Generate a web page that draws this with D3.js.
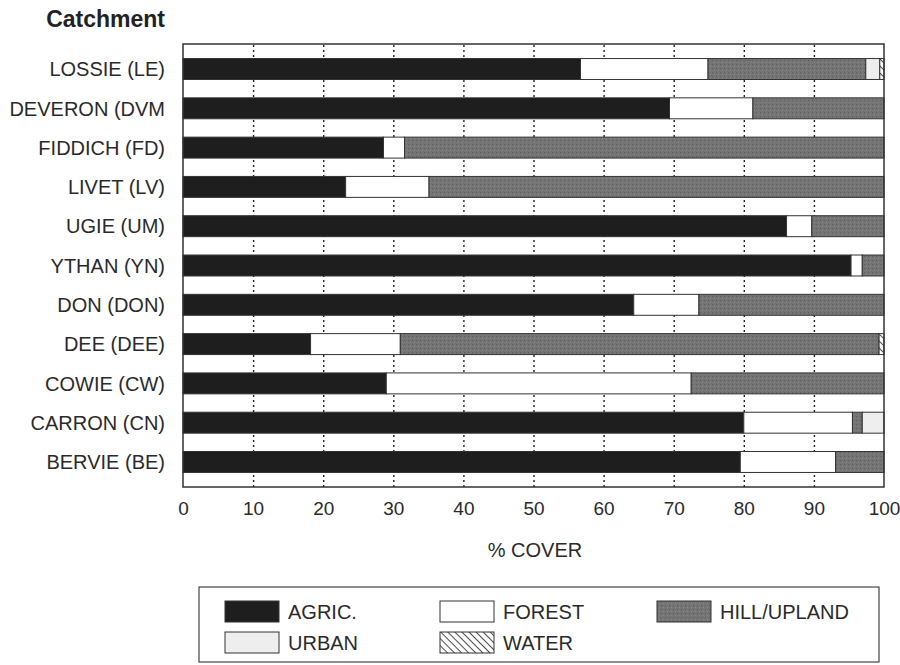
<!DOCTYPE html>
<html lang="en">
<head>
<meta charset="UTF-8">
<title>Land cover by catchment</title>
<style>
    body { margin: 0; background: #fff; }
    svg { display: block; font-family: "Liberation Sans", Arial, Helvetica, sans-serif; }
    .cat-label { font-size: 20px; fill: #2a2a2a; }
    .tick text { font-size: 19px; fill: #2a2a2a; }
    .grid line { stroke: #222; stroke-width: 1.4; stroke-dasharray: 2,3; }
    .bar { stroke: #333; stroke-width: 1; }
    .legend-text { font-size: 20px; fill: #2a2a2a; }
</style>
</head>
<body>
<svg id="chart"></svg>
<script src="https://cdnjs.cloudflare.com/ajax/libs/d3/7.9.0/d3.min.js"></script>
<script>
// catchments, top to bottom
const catchments = ["LOSSIE (LE)", "DEVERON (DVM", "FIDDICH (FD)", "LIVET (LV)", "UGIE (UM)",
    "YTHAN (YN)", "DON (DON)", "DEE (DEE)", "COWIE (CW)", "CARRON (CN)", "BERVIE (BE)"];

// % cover per class, same order as catchments
const agric  = [56.7, 69.4, 28.6, 23.2, 86.1, 95.3, 64.3, 18.2, 29.0, 80.0, 79.5];
const forest = [18.2, 11.9,  3.0, 11.9,  3.6,  1.6,  9.3, 12.8, 43.5, 15.5, 13.6];
const hill   = [22.5, 18.7, 68.4, 64.9, 10.3,  3.1, 26.4, 68.3, 27.5,  1.4,  6.9];
const urban  = [ 2.0,  0,    0,    0,    0,    0,    0,    0,    0,    3.1,  0  ];
const water  = [ 0.6,  0,    0,    0,    0,    0,    0,    0.7,  0,    0,    0  ];

const xTicks = [0, 10, 20, 30, 40, 50, 60, 70, 80, 90, 100];
const keys = ["agric", "forest", "hill", "urban", "water"];
const legendLabels = ["AGRIC.", "FOREST", "HILL/UPLAND", "URBAN", "WATER"];

const W = 900, H = 665;
const plot = { left: 183, right: 884, top: 44, bottom: 487 };

const svg = d3.select("#chart").attr("width", W).attr("height", H);
const defs = svg.append("defs");

// water hatching
const hatch = defs.append("pattern")
    .attr("id", "hatch").attr("patternUnits", "userSpaceOnUse")
    .attr("width", 5).attr("height", 5)
    .attr("patternTransform", "rotate(-45)");
hatch.append("rect").attr("width", 5).attr("height", 5).attr("fill", "#fff");
hatch.append("line").attr("x1", 0).attr("y1", 0).attr("x2", 0).attr("y2", 5)
    .attr("stroke", "#222").attr("stroke-width", 1.6);

// light speckle for the grey hill fill
const speck = defs.append("pattern")
    .attr("id", "speck").attr("patternUnits", "userSpaceOnUse")
    .attr("width", 4).attr("height", 4);
speck.append("rect").attr("width", 4).attr("height", 4).attr("fill", "#747474");
speck.append("rect").attr("x", 0).attr("y", 0).attr("width", 1).attr("height", 1).attr("fill", "#5e5e5e");
speck.append("rect").attr("x", 2).attr("y", 2).attr("width", 1).attr("height", 1).attr("fill", "#888");

const fills = {
    agric: "#1e1e1e",
    forest: "#ffffff",
    hill: "url(#speck)",
    urban: "#eeeeee",
    water: "url(#hatch)"
};

const table = catchments.map((c, i) => ({
    name: c, agric: agric[i], forest: forest[i], hill: hill[i], urban: urban[i], water: water[i]
}));

const x = d3.scaleLinear().domain([0, 100]).range([plot.left, plot.right]);
const y = d3.scaleBand().domain(catchments).range([plot.top, plot.bottom])
    .paddingInner(0.467).paddingOuter(0.37);

// dotted grid
svg.append("g")
    .attr("class", "grid")
    .attr("transform", `translate(0,${plot.bottom})`)
    .call(d3.axisBottom(x).tickValues(xTicks.slice(1, -1)).tickSize(-(plot.bottom - plot.top)).tickFormat(""))
    .call(g => g.select(".domain").remove());

// stacked bars
const stacked = d3.stack().keys(keys)(table);
svg.append("g").selectAll("g")
    .data(stacked)
    .join("g")
    .attr("fill", d => fills[d.key])
    .selectAll("rect")
    .data(d => d.filter(s => s[1] - s[0] > 0))
    .join("rect")
    .attr("class", "bar")
    .attr("x", d => x(d[0]))
    .attr("y", d => y(d.data.name))
    .attr("width", d => x(d[1]) - x(d[0]))
    .attr("height", y.bandwidth());

// frame
svg.append("rect")
    .attr("x", plot.left).attr("y", plot.top)
    .attr("width", plot.right - plot.left).attr("height", plot.bottom - plot.top)
    .attr("fill", "none").attr("stroke", "#333").attr("stroke-width", 1.5);

// x axis labels
svg.append("g")
    .attr("transform", `translate(0,${plot.bottom})`)
    .call(d3.axisBottom(x).tickValues(xTicks).tickSize(0).tickPadding(15))
    .call(g => g.select(".domain").remove());

svg.append("text")
    .attr("x", 535).attr("y", 557)
    .attr("text-anchor", "middle")
    .attr("font-size", 20).attr("fill", "#2a2a2a")
    .text("% COVER");

// category labels
svg.append("g").selectAll("text")
    .data(catchments)
    .join("text")
    .attr("class", "cat-label")
    .attr("x", 165)
    .attr("y", d => y(d) + y.bandwidth() / 2)
    .attr("dy", "0.36em")
    .attr("text-anchor", "end")
    .text(d => d);

svg.append("text")
    .attr("x", 165).attr("y", 27)
    .attr("text-anchor", "end")
    .attr("font-size", 23).attr("font-weight", "bold").attr("fill", "#222")
    .text("Catchment");

// legend
svg.append("rect")
    .attr("x", 199).attr("y", 587).attr("width", 680).attr("height", 75)
    .attr("fill", "none").attr("stroke", "#444").attr("stroke-width", 1.2);

const colX = [225, 440, 657];
const rowY = [601, 632];
const lg = svg.append("g").selectAll("g")
    .data(keys)
    .join("g")
    .attr("transform", (d, i) => `translate(${colX[i % 3]},${rowY[Math.floor(i / 3)]})`);
lg.append("rect")
    .attr("width", 54).attr("height", 21)
    .attr("fill", d => fills[d]).attr("stroke", "#333").attr("stroke-width", 1);
lg.append("text")
    .attr("class", "legend-text")
    .attr("x", 63).attr("y", 18)
    .text((d, i) => legendLabels[i]);
</script>
</body>
</html>
